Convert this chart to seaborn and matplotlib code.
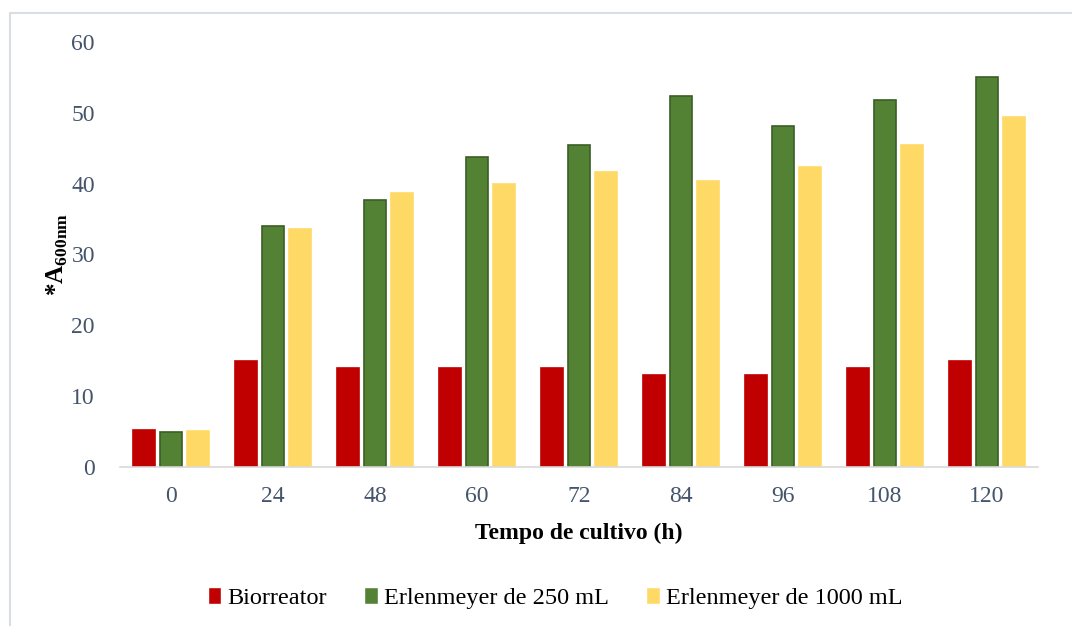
import pandas as pd
import matplotlib
matplotlib.use("Agg")
import matplotlib.pyplot as plt
from matplotlib.patches import Rectangle
import seaborn as sns

# data
tempos = ["0", "24", "48", "60", "72", "84", "96", "108", "120"]
biorreator = [5.2, 15, 14, 14, 14, 13, 13, 14, 15]
erlen_250 = [5.0, 34.0, 37.7, 43.7, 45.4, 52.4, 48.1, 51.8, 55.1]
erlen_1000 = [5.1, 33.6, 38.7, 40.0, 41.7, 40.4, 42.4, 45.4, 49.4]
series = ["Biorreator", "Erlenmeyer de 250 mL", "Erlenmeyer de 1000 mL"]

df = pd.DataFrame({
    "tempo": tempos * 3,
    "valor": biorreator + erlen_250 + erlen_1000,
    "serie": [series[0]] * 9 + [series[1]] * 9 + [series[2]] * 9,
})

sns.set_style("white")
plt.rcParams["font.family"] = ["Liberation Serif", "DejaVu Serif"]
plt.rcParams["mathtext.fontset"] = "custom"
plt.rcParams["mathtext.rm"] = "Liberation Serif"
plt.rcParams["mathtext.bf"] = "Liberation Serif:bold"

colors = ["#C00000", "#548235", "#FFD966"]
edges = ["#C00000", "#3B5E25", "#FFD966"]
tick_color = "#44546A"

fig = plt.figure(figsize=(10.72, 6.26), dpi=100)
ax = fig.add_axes([120 / 1072, 159 / 626, 918 / 1072, 425 / 626])

sns.barplot(data=df, x="tempo", y="valor", hue="serie", order=tempos,
            hue_order=series, palette=colors, width=0.79, gap=0.17,
            saturation=1, ax=ax)

for cont, ec in zip(ax.containers, edges):
    for bar in cont:
        bar.set_edgecolor(ec)
        bar.set_linewidth(1.2)

ax.set_ylim(0, 60)
ax.set_yticks(range(0, 61, 10))
ax.tick_params(axis="both", colors=tick_color, labelsize=17, length=0)
ax.tick_params(axis="x", pad=14)
ax.tick_params(axis="y", pad=18)
for s in ["top", "right", "left"]:
    ax.spines[s].set_visible(False)
ax.spines["bottom"].set_color("#D9D9D9")
ax.spines["bottom"].set_linewidth(1.2)

ax.set_xlabel("Tempo de cultivo (h)", fontsize=17, fontweight="bold",
              color="black", labelpad=11)
ax.set_ylabel(r"*A$_{\mathbf{600nm}}$", fontsize=18, fontweight="bold",
              color="black", labelpad=1)

leg = ax.legend(loc="upper center", bbox_to_anchor=(0.474, -0.23), ncol=3,
                frameon=False, fontsize=17.5, handlelength=0.55, handleheight=0.7,
                handletextpad=0.25, columnspacing=1.55)
for txt in leg.get_texts():
    txt.set_color("black")

# chart border like the office chart frame
fig.patches.append(Rectangle((10 / 1072, -0.1), 1.2, 1 - 13 / 626 + 0.1,
                             transform=fig.transFigure, fill=False,
                             edgecolor="#D9DEE4", linewidth=1.5))

fig.savefig("out.png", dpi=100)
